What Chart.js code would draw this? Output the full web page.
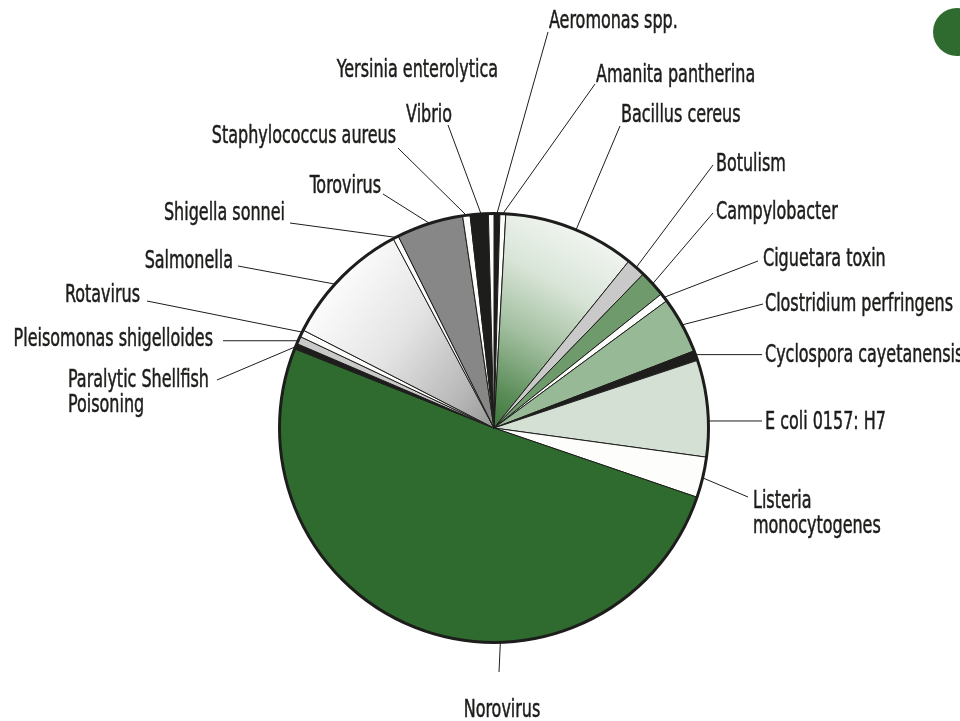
<!DOCTYPE html>
<html>
<head>
<meta charset="utf-8">
<script src="https://cdn.jsdelivr.net/npm/chart.js@4/dist/chart.umd.min.js"></script>
<style>
  html, body { margin: 0; padding: 0; background: #fff; }
  #wrap { width: 960px; height: 721px; }
</style>
</head>
<body>
<div id="wrap"><canvas id="grafico" width="960" height="721"></canvas></div>
<script>
// categorias y valores (% de brotes)
const categorias = [
  'Aeromonas spp.', 'Amanita pantherina', 'Bacillus cereus', 'Botulism', 'Campylobacter',
  'Ciguetara toxin', 'Clostridium perfringens', 'Cyclospora cayetanensis', 'E coli 0157: H7',
  'Listeria monocytogenes', 'Norovirus', 'Paralytic Shellfish Poisoning', 'Pleisomonas shigelloides',
  'Rotavirus', 'Salmonella', 'Shigella sonnei', 'Torovirus', 'Staphylococcus aureus', 'Vibrio',
  'Yersinia enterolytica'
];
const valores = [0.44, 0.44, 9.94, 1.44, 2.0, 0.64, 4.25, 0.75, 7.28, 3.06,
                 50.8, 0.42, 0.58, 0.53, 9.67, 0.42, 5.03, 0.56, 1.36, 0.42];

// texto de cada etiqueta (saltos de linea)
const textos = [
  ['Aeromonas spp.'], ['Amanita pantherina'], ['Bacillus cereus'], ['Botulism'], ['Campylobacter'],
  ['Ciguetara toxin'], ['Clostridium perfringens'], ['Cyclospora cayetanensis'], ['E coli 0157: H7'],
  ['Listeria', 'monocytogenes'], ['Norovirus'], ['Paralytic Shellfish', 'Poisoning'],
  ['Pleisomonas shigelloides'], ['Rotavirus'], ['Salmonella'], ['Shigella sonnei'], ['Torovirus'],
  ['Staphylococcus aureus'], ['Vibrio'], ['Yersinia enterolytica']
];

const NEGRO = '#1d1d1b';
const BLANCO = '#fdfdfb';
const colores = [
  NEGRO, BLANCO, 'grad-verde', '#c9c9c9', '#6f9a6b', BLANCO, '#98b996', NEGRO, '#d5e0d5', BLANCO,
  '#2f6b2f', NEGRO, '#c9c9c9', BLANCO, 'grad-gris', BLANCO, '#878787', BLANCO, NEGRO, BLANCO
];

// posicion de las etiquetas respecto al centro del pastel
// t: punto del arco donde empieza la guia (0..1 dentro del sector)
// fin: extremo de la guia, txt: ancla del texto, al: alineacion
const guias = [
  { t: 0.5,  fin: [54, -396],   txt: [55, -400],   al: 'left' },
  { t: 0.5,  fin: [101, -344],  txt: [102, -346],  al: 'left' },
  { t: 0.54, fin: [126, -302],  txt: [127, -306],  al: 'left' },
  { t: 0.5,  fin: [219, -263],  txt: [222, -257],  al: 'left' },
  { t: 0.5,  fin: [219, -215],  txt: [222, -209],  al: 'left' },
  { t: 0.5,  fin: [264, -167],  txt: [269, -162],  al: 'left' },
  { t: 0.5,  fin: [269, -124],  txt: [271, -117],  al: 'left' },
  { t: 0.4,  fin: [268, null],  txt: [271, -66],   al: 'left' },
  { t: 0.63, fin: [268, null],  txt: [271, 1],     al: 'left' },
  { t: 0.51, fin: [254, 69],    txt: [259, 80],    al: 'left' },
  { t: 0.38, fin: [5, 244],     txt: [8, 289],     al: 'center' },
  { t: 0.4,  fin: [-277, -48],  txt: [-426, -41],  al: 'left' },
  { t: 0.4,  fin: [-271, null], txt: [-281, -82],  al: 'right' },
  { t: 0.68, fin: [-347, -127], txt: [-354, -126], al: 'right' },
  { t: 0.43, fin: [-256, -162], txt: [-261, -160], al: 'right' },
  { t: 0.5,  fin: [-204, -205], txt: [-209, -208], al: 'right' },
  { t: 0.5,  fin: [-111, -234], txt: [-113, -235], al: 'right' },
  { t: 0.5,  fin: [-96, -280],  txt: [-98, -285],  al: 'right' },
  { t: 0.6,  fin: [-46, -303],  txt: [-42, -306],  al: 'right' },
  { t: 0.47, fin: [-3, null],   txt: [4, -351],    al: 'right' }
];

const FUENTE = "24px 'Liberation Sans Narrow', 'Arial Narrow', 'DejaVu Sans Condensed', sans-serif";
const ESTRECHO = 0.74; // la fuente original es condensada

const colorSector = (ctx) => {
  const c = colores[ctx.dataIndex];
  if (c !== 'grad-verde' && c !== 'grad-gris') return c;
  const area = ctx.chart.chartArea;
  if (!area) return c === 'grad-verde' ? '#98b996' : '#d0d0d0';
  const cx = (area.left + area.right) / 2;
  const cy = (area.top + area.bottom) / 2;
  const r = Math.min(area.right - area.left, area.bottom - area.top) / 2;
  let g;
  if (c === 'grad-verde') {
    // claro arriba a la derecha, verde oscuro hacia el centro
    g = ctx.chart.ctx.createLinearGradient(cx + r * 0.5, cy - r * 0.95, cx - r * 0.05, cy + r * 0.05);
    g.addColorStop(0, '#f7f9f6');
    g.addColorStop(0.3, '#d9e5d8');
    g.addColorStop(0.55, '#a2bf9f');
    g.addColorStop(0.8, '#5a8c57');
    g.addColorStop(1, '#2f6b2f');
  } else {
    g = ctx.chart.ctx.createLinearGradient(cx - r * 0.8, cy - r * 0.6, cx, cy);
    g.addColorStop(0, '#fcfcfc');
    g.addColorStop(0.4, '#e4e4e4');
    g.addColorStop(0.8, '#b6b6b6');
    g.addColorStop(1, '#969696');
  }
  return g;
};

const etiquetas = {
  id: 'etiquetas',
  afterDatasetsDraw(chart) {
    const ctx = chart.ctx;
    const arcos = chart.getDatasetMeta(0).data;
    if (!arcos.length) return;
    const cx = arcos[0].x, cy = arcos[0].y, R = arcos[0].outerRadius;

    ctx.save();
    // borde exterior grueso
    ctx.beginPath();
    ctx.arc(cx, cy, R, 0, Math.PI * 2);
    ctx.lineWidth = 3;
    ctx.strokeStyle = NEGRO;
    ctx.stroke();

    ctx.font = FUENTE;
    ctx.fillStyle = NEGRO;
    ctx.textBaseline = 'alphabetic';
    arcos.forEach((arco, i) => {
      const g = guias[i];
      const a = arco.startAngle + (arco.endAngle - arco.startAngle) * g.t;
      const x0 = cx + R * Math.cos(a);
      const y0 = cy + R * Math.sin(a);
      const x1 = cx + g.fin[0];
      const y1 = g.fin[1] === null ? y0 : cy + g.fin[1];
      ctx.beginPath();
      ctx.moveTo(x0, y0);
      ctx.lineTo(x1, y1);
      ctx.lineWidth = 1;
      ctx.strokeStyle = NEGRO;
      ctx.stroke();

      ctx.textAlign = g.al;
      textos[i].forEach((linea, k) => {
        ctx.save();
        ctx.translate(cx + g.txt[0], cy + g.txt[1] + k * 25);
        ctx.scale(ESTRECHO, 1);
        ctx.fillText(linea, 0, 0);
        ctx.lineWidth = 0.5;
        ctx.strokeText(linea, 0, 0);
        ctx.restore();
      });
    });

    // marca verde de la esquina
    ctx.beginPath();
    ctx.arc(957, 32, 24, 0, Math.PI * 2);
    ctx.fillStyle = '#2f6b2f';
    ctx.fill();
    ctx.restore();
  }
};

new Chart(document.getElementById('grafico'), {
  type: 'pie',
  data: {
    labels: categorias,
    datasets: [{
      data: valores,
      backgroundColor: colorSector,
      borderColor: NEGRO,
      borderWidth: 1
    }]
  },
  options: {
    responsive: false,
    animation: false,
    layout: { padding: { left: 279, right: 251, top: 213, bottom: 78 } },
    plugins: {
      legend: { display: false },
      tooltip: { enabled: false }
    }
  },
  plugins: [etiquetas]
});
</script>
</body>
</html>
